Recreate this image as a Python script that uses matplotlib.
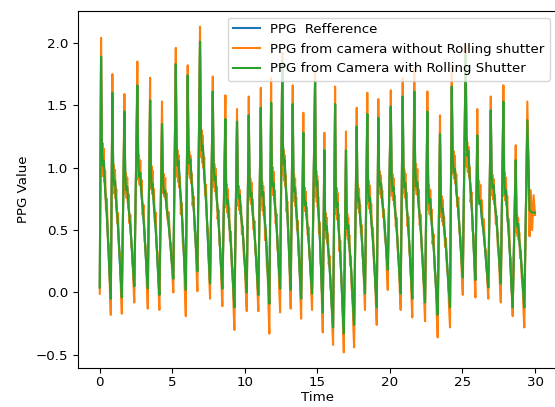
import matplotlib
matplotlib.use('Agg')
import matplotlib.pyplot as plt

plt.rcParams['font.size'] = 9.6

# beat onsets (troughs) and systolic peaks, seconds
trough_t = [0.0, 0.76, 1.52, 2.38, 3.31, 4.11, 5.07, 5.93, 6.73, 7.60,
            8.45, 9.28, 10.13, 10.93, 11.69, 12.43, 13.16, 13.88, 14.63, 15.37,
            16.08, 16.82, 17.53, 18.28, 19.09, 19.85, 20.74, 21.54, 22.42, 23.29,
            24.14, 25.02, 25.89, 26.78, 27.64, 28.46, 29.26]
peak_t = [0.09, 0.87, 1.70, 2.59, 3.47, 4.29, 5.24, 6.06, 6.91, 7.79,
          8.66, 9.46, 10.27, 11.10, 11.81, 12.58, 13.30, 14.03, 14.84, 15.48,
          16.22, 16.97, 17.71, 18.44, 19.20, 20.06, 20.88, 21.68, 22.58, 23.45,
          24.26, 25.22, 26.02, 26.95, 27.82, 28.67, 29.47]

# camera without rolling shutter (orange)
peak_cam = [2.04, 1.75, 1.59, 1.85, 1.72, 1.53, 1.96, 1.82, 2.13, 1.73,
            1.58, 1.47, 1.57, 1.64, 1.72, 1.92, 1.66, 1.44, 1.77, 1.28,
            1.65, 1.29, 1.48, 1.60, 1.55, 1.62, 1.72, 1.80, 1.61, 1.42,
            1.84, 1.97, 1.47, 1.57, 1.66, 1.18, 1.53]
trough_cam = [-0.01, -0.18, -0.17, -0.08, -0.13, -0.14, 0.00, -0.19, 0.01, -0.05,
              -0.11, -0.30, -0.15, -0.15, -0.33, -0.16, -0.13, -0.21, -0.14, -0.32,
              -0.42, -0.48, -0.44, -0.14, -0.26, 0.02, -0.14, -0.20, -0.23, -0.36,
              -0.28, -0.02, -0.04, -0.05, -0.08, -0.19, -0.28]

# camera with rolling shutter (green)
peak_rs = [1.89, 1.60, 1.45, 1.66, 1.54, 1.35, 1.83, 1.74, 2.01, 1.61,
           1.39, 1.37, 1.42, 1.48, 1.52, 1.85, 1.51, 1.28, 1.69, 1.14,
           1.51, 1.14, 1.33, 1.43, 1.40, 1.49, 1.57, 1.61, 1.45, 1.27,
           1.65, 1.91, 1.26, 1.46, 1.53, 1.06, 1.38]
trough_rs = [0.04, -0.05, -0.04, 0.05, 0.03, -0.02, 0.11, 0.02, 0.17, 0.07,
             0.03, -0.12, 0.00, -0.02, -0.09, 0.03, 0.02, -0.05, -0.01, -0.16,
             -0.28, -0.33, -0.26, -0.01, -0.12, 0.18, -0.01, -0.05, -0.08, -0.18,
             -0.12, 0.12, 0.10, 0.04, 0.07, -0.12, -0.12]

# reference sits under the green trace
peak_ref = list(peak_rs)
trough_ref = list(trough_rs)

# shape of the falling limb: position between peak and next onset, relative height
limb_pos_cam = [0.05, 0.10, 0.16, 0.22, 0.28, 0.34, 0.42, 0.50, 0.60, 0.70, 0.80, 0.90]
limb_lvl_cam = [0.72, 0.52, 0.62, 0.50, 0.60, 0.48, 0.52, 0.38, 0.42, 0.27, 0.25, 0.10]
limb_pos_rs = [0.08, 0.18, 0.28, 0.42, 0.55, 0.70, 0.85]
limb_lvl_rs = [0.64, 0.55, 0.57, 0.45, 0.38, 0.26, 0.12]

# last partial beat
tail_t = [29.62, 29.70, 29.80, 29.90, 30.0]
tail_cam = [0.45, 0.82, 0.50, 0.78, 0.62]
tail_rs = [0.66, 0.65, 0.64, 0.64, 0.64]


def trace(peaks, troughs, tail, limb_pos, limb_lvl):
    t, v = [], []
    for i in range(len(peaks)):
        t.append(trough_t[i]); v.append(troughs[i])
        t.append(peak_t[i]); v.append(peaks[i])
        if i + 1 < len(peaks):
            nt, nv = trough_t[i + 1], troughs[i + 1]
            for p, l in zip(limb_pos, limb_lvl):
                t.append(peak_t[i] + p * (nt - peak_t[i]))
                v.append(nv + l * (peaks[i] - nv))
    return t + tail_t, v + tail


fig = plt.figure(figsize=(5.55, 4.07), dpi=100)
ax = fig.add_axes([78/555, 39/407, 478.8/555, 357/407])

t, v = trace(peak_ref, trough_ref, tail_rs, limb_pos_rs, limb_lvl_rs)
ax.plot(t, v, label='PPG  Refference')
t, v = trace(peak_cam, trough_cam, tail_cam, limb_pos_cam, limb_lvl_cam)
ax.plot(t, v, label='PPG from camera without Rolling shutter')
t, v = trace(peak_rs, trough_rs, tail_rs, limb_pos_rs, limb_lvl_rs)
ax.plot(t, v, label='PPG from Camera with Rolling Shutter')

ax.set_xlim(-1.5, 31.5)
ax.set_ylim(-0.605, 2.255)
ax.tick_params(axis='x', pad=2.5)
ax.set_xlabel('Time', labelpad=1.5)
ax.set_ylabel('PPG Value')
ax.legend(loc='upper right')

fig.savefig('out.png', dpi=100)
